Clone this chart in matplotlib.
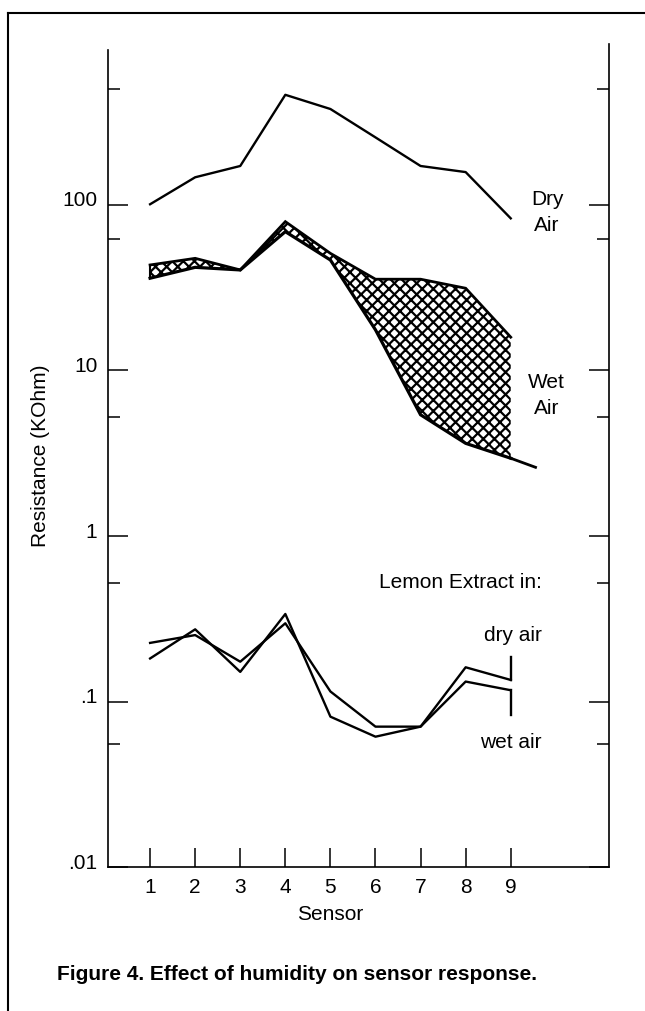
import matplotlib
matplotlib.use("Agg")
import matplotlib.pyplot as plt
from matplotlib.lines import Line2D
from matplotlib.transforms import ScaledTranslation

# ---------------- data ----------------
sensors = [1, 2, 3, 4, 5, 6, 7, 8, 9]
dry_air = [101, 147, 172, 463, 380, 256, 172, 158, 83]
wet_upper = [43.4, 47.6, 40.5, 79.3, 51.0, 35.6, 35.6, 31.4, 15.9]
wet_lower = [36.1, 42.0, 40.5, 69.0, 46.5, 17.6, 5.4, 3.63, 2.95]
wet_tail_x = [9, 9.55]
wet_tail = [2.95, 2.6]
lemon_dry = [0.182, 0.273, 0.151, 0.338, 0.081, 0.0613, 0.0705, 0.161, 0.135]
lemon_wet = [0.226, 0.252, 0.174, 0.297, 0.115, 0.0705, 0.0705, 0.132, 0.117]
lemon_dry_bracket = [0.135, 0.187]
lemon_wet_bracket = [0.117, 0.083]

ytick_vals = [0.01, 0.1, 1, 10, 100]
ytick_labels = [".01", ".1", "1", "10", "100"]
yminor_vals = [500, 62, 5.2, 0.52, 0.055]

# ---------------- figure ----------------
plt.rcParams["font.family"] = ["Liberation Sans", "DejaVu Sans"]
plt.rcParams["hatch.linewidth"] = 1.6
FS = 15

fig = plt.figure(figsize=(6.45, 10.11), dpi=100)
ax = fig.add_axes([0.1670, 0.1424, 0.7772, 0.8141])
ax.set_yscale("log")
ax.set_xlim(0.06, 11.18)
ax.set_ylim(0.01, 939)

# wet air band
ax.fill_between(sensors, wet_lower, wet_upper, facecolor="white",
                edgecolor="black", hatch="xxx", linewidth=0)
ax.plot(sensors, wet_upper, color="black", lw=2.0, solid_joinstyle="miter")
ax.plot(sensors, wet_lower, color="black", lw=2.3, solid_joinstyle="miter")
ax.plot(wet_tail_x, wet_tail, color="black", lw=2.0)
ax.plot([sensors[0], sensors[0]], [wet_lower[0], wet_upper[0]], color="black", lw=1.5)

# dry air line
ax.plot(sensors, dry_air, color="black", lw=1.7)

# lemon extract lines
ax.plot(sensors, lemon_dry, color="black", lw=1.7)
ax.plot(sensors, lemon_wet, color="black", lw=1.7)
ax.plot([sensors[-1], sensors[-1]], lemon_dry_bracket, color="black", lw=1.7)
ax.plot([sensors[-1], sensors[-1]], lemon_wet_bracket, color="black", lw=1.7)

# spines
ax.spines["top"].set_visible(False)
for s in ["left", "right", "bottom"]:
    ax.spines[s].set_linewidth(1.2)
ax.spines["left"].set_bounds(0.01, 864)

# ticks
ax.set_xticks(sensors)
ax.set_xticklabels([str(s) for s in sensors])
ax.set_yticks(ytick_vals)
ax.set_yticklabels(ytick_labels)
ax.set_yticks(yminor_vals, minor=True)
ax.yaxis.set_minor_formatter(plt.NullFormatter())
ax.tick_params(axis="x", which="major", direction="in", length=14, width=1.1,
               labelsize=FS, pad=8)
ax.tick_params(axis="y", which="major", direction="in", length=14.5, width=1.1,
               labelsize=FS, pad=7.5, right=True)
ax.tick_params(axis="y", which="minor", direction="in", length=8.6, width=1.1,
               right=True)
off = ScaledTranslation(0, 0.06, fig.dpi_scale_trans)
for lab in ax.get_yticklabels():
    lab.set_transform(lab.get_transform() + off)

ax.set_xlabel("Sensor", fontsize=FS)
ax.xaxis.set_label_coords(0.443, -0.058)
ax.xaxis.label.set_va("center")
ax.set_ylabel("Resistance (KOhm)", fontsize=FS)
ax.yaxis.label.set_va("center")
ax.yaxis.set_label_coords(-0.135, 0.5)

# annotations (axes-fraction positions)
def fx(px):
    return (px - 107.7) / (609 - 107.7)

def fy(py):
    return (867 - py) / (867 - 44)

ax.text(fx(547), fy(200), "Dry", fontsize=FS, ha="center", va="center", transform=ax.transAxes)
ax.text(fx(547), fy(226), "Air", fontsize=FS, ha="center", va="center", transform=ax.transAxes)
ax.text(fx(546), fy(382), "Wet", fontsize=FS, ha="center", va="center", transform=ax.transAxes)
ax.text(fx(547), fy(408), "Air", fontsize=FS, ha="center", va="center", transform=ax.transAxes)
ax.text(fx(542), fy(582), "Lemon Extract in:", fontsize=FS, ha="right", va="center", transform=ax.transAxes)
ax.text(fx(542), fy(635), "dry air", fontsize=FS, ha="right", va="center", transform=ax.transAxes)
ax.text(fx(542), fy(742), "wet air", fontsize=FS, ha="right", va="center", transform=ax.transAxes)

# caption
fig.text(297 / 645, 1 - 975 / 1011, "Figure 4. Effect of humidity on sensor response.",
         fontsize=FS, fontweight="bold", ha="center", va="center")

# outer frame lines
fig.add_artist(Line2D([8 / 645, 8 / 645], [0, 1 - 13 / 1011], color="black", lw=1.5,
                      transform=fig.transFigure))
fig.add_artist(Line2D([8 / 645, 1], [1 - 13 / 1011, 1 - 13 / 1011], color="black", lw=1.5,
                      transform=fig.transFigure))

fig.savefig("out.png", dpi=100)
